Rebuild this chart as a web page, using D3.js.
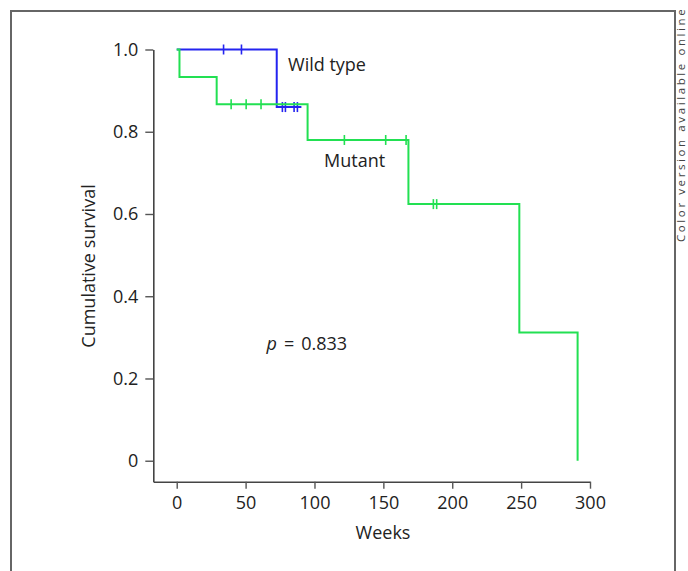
<!DOCTYPE html>
<html>
<head>
<meta charset="utf-8">
<script src="https://cdn.jsdelivr.net/npm/d3@7"></script>
<style>
  html, body { margin: 0; padding: 0; background: #fff; }
  svg { display: block; font-family: "Open Sans", "Noto Sans", sans-serif; }
</style>
</head>
<body>
<svg id="km" width="688" height="571"></svg>
<script>
// Kaplan-Meier steps (weeks, cumulative survival)
const wildTime = [0, 72.6, 90.5];
const wildSurv = [1.0, 0.86, 0.86];
const wildCensor = [34, 47, 76.7, 78.9, 85.2, 87.6];

const mutTime = [0, 2, 29, 95, 168.2, 248.7, 291];
const mutSurv = [1.0, 0.933, 0.867, 0.78, 0.624, 0.312, 0];
const mutCensor = [39.5, 50.4, 61.2, 121.7, 151.7, 166.5, 186.3, 188.7];

const xTicks = [0, 50, 100, 150, 200, 250, 300];
const yTicks = [0, 0.2, 0.4, 0.6, 0.8, 1.0];

const svg = d3.select("#km");

// frame round the figure
svg.append("path")
  .attr("d", "M11,571 V11 H675 V571")
  .attr("fill", "none")
  .attr("stroke", "#666")
  .attr("stroke-width", 2);

svg.append("text")
  .attr("transform", "translate(684.6,242) rotate(-90)")
  .style("font-size", "11.5px")
  .style("letter-spacing", "2.6px")
  .attr("fill", "#444")
  .text("Color version available online");

const x = d3.scaleLinear().domain([-17, 300]).range([153.3, 590]);
const y = d3.scaleLinear().domain([-0.051, 1.0]).range([481.7, 49.5]);

// axes
const xAxis = svg.append("g")
  .attr("transform", "translate(0,481.7)")
  .call(d3.axisBottom(x).tickValues(xTicks).tickSize(7).tickSizeOuter(0).tickPadding(8));

const yAxis = svg.append("g")
  .attr("transform", "translate(153.3,0)")
  .call(d3.axisLeft(y).tickValues(yTicks).tickSize(8).tickSizeOuter(0).tickPadding(7)
    .tickFormat(d => d === 0 ? "0" : d3.format(".1f")(d)));

[xAxis, yAxis].forEach(g => {
  g.select(".domain").attr("stroke", "#444").attr("stroke-width", 1.6);
  g.selectAll(".tick line").attr("stroke", "#555").attr("stroke-width", 1.4);
  g.selectAll(".tick text")
    .attr("fill", "#222")
    .style("font-family", "'Open Sans', 'Noto Sans', sans-serif")
    .style("font-size", "18px");
});

// axis titles
svg.append("text")
  .attr("x", 383)
  .attr("y", 539)
  .attr("text-anchor", "middle")
  .attr("fill", "#222")
  .style("font-size", "18px")
  .text("Weeks");

svg.append("text")
  .attr("transform", "translate(95,266) rotate(-90)")
  .attr("text-anchor", "middle")
  .attr("fill", "#222")
  .style("font-size", "18px")
  .text("Cumulative survival");

// survival curves
const step = d3.line()
  .x(d => x(d[0]))
  .y(d => y(d[1]))
  .curve(d3.curveStepAfter);

function survAt(times, surv, t) {
  const i = d3.bisectRight(times, t) - 1;
  return surv[Math.max(0, i)];
}

function drawCurve(times, surv, censor, color) {
  const pts = times.map((t, i) => [t, surv[i]]);
  svg.append("path")
    .datum(pts)
    .attr("d", step)
    .attr("fill", "none")
    .attr("stroke", color)
    .attr("stroke-width", 2);

  svg.selectAll(null)
    .data(censor)
    .enter()
    .append("line")
    .attr("x1", d => x(d))
    .attr("x2", d => x(d))
    .attr("y1", d => y(survAt(times, surv, d)) - 5)
    .attr("y2", d => y(survAt(times, surv, d)) + 5)
    .attr("stroke", color)
    .attr("stroke-width", 1.6);
}

drawCurve(wildTime, wildSurv, wildCensor, "#2424f0");
drawCurve(mutTime, mutSurv, mutCensor, "#22e052");

// labels
svg.append("text")
  .attr("x", x(80.8))
  .attr("y", y(0.948))
  .attr("fill", "#222")
  .style("font-size", "18px")
  .text("Wild type");

svg.append("text")
  .attr("x", x(107))
  .attr("y", y(0.715))
  .attr("fill", "#222")
  .style("font-size", "18px")
  .text("Mutant");

const pText = svg.append("text")
  .attr("x", x(65.2))
  .attr("y", y(0.269))
  .attr("fill", "#222")
  .style("font-size", "18px");
pText.append("tspan").style("font-style", "italic").text("p");
pText.append("tspan").attr("dx", 7).text("=");
pText.append("tspan").attr("dx", 7).text("0.833");
</script>
</body>
</html>
